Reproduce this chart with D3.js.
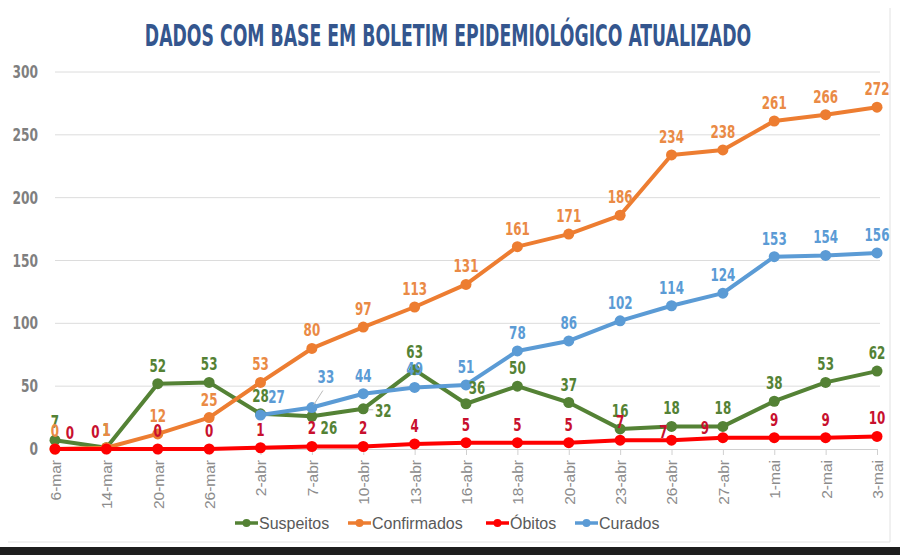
<!DOCTYPE html>
<html lang="pt">
  <head>
    <meta charset="UTF-8" />
    <title>Boletim epidemiológico</title>
    <script src="https://d3js.org/d3.v7.min.js"></script>
    <style>
      body { margin: 0; background: #fff; }
      svg { display: block; }
      .narrow { font-family: "Liberation Sans Narrow", "DejaVu Sans Condensed", "Roboto", sans-serif; font-stretch: condensed; font-weight: bold; }
    </style>
  </head>
  <body>
    <svg width="900" height="555"></svg>
    <script>
      // dates on the x axis
      const dates = ["6-mar", "14-mar", "20-mar", "26-mar", "2-abr", "7-abr", "10-abr", "13-abr", "16-abr",
        "18-abr", "20-abr", "23-abr", "26-abr", "27-abr", "1-mai", "2-mai", "3-mai"];

      const suspeitos = [7, 1, 52, 53, 28, 26, 32, 63, 36, 50, 37, 16, 18, 18, 38, 53, 62];
      const confirmados = [0, 1, 12, 25, 53, 80, 97, 113, 131, 161, 171, 186, 234, 238, 261, 266, 272];
      const obitos = [0, 0, 0, 0, 1, 2, 2, 4, 5, 5, 5, 7, 7, 9, 9, 9, 10];
      const curados = [null, null, null, null, 27, 33, 44, 49, 51, 78, 86, 102, 114, 124, 153, 154, 156];

      const yTicks = [0, 50, 100, 150, 200, 250, 300];

      const series = [
        { name: "Suspeitos", values: suspeitos, color: "#548235", label: "#548235" },
        { name: "Confirmados", values: confirmados, color: "#ed7d31", label: "#ea8a45" },
        { name: "Óbitos", values: obitos, color: "#ff0000", label: "#c8102e" },
        { name: "Curados", values: curados, color: "#5b9bd5", label: "#5b9bd5" }
      ];

      // label nudges where the labels would collide (dx, dy from point)
      const nudges = {
        "Suspeitos": { 5: [17, 12], 6: [20, 2], 8: [11, -16] },
        "Óbitos": { 0: [15, -16], 1: [-11, -17], 12: [-8, -8], 13: [-18, -10] },
        "Curados": { 4: [16, -18], 5: [14, -31] }
      };

      const svg = d3.select("svg");

      // panel frame
      svg.append("line").attr("x1", 890).attr("x2", 890).attr("y1", 8).attr("y2", 542)
        .attr("stroke", "#e2e2e2");
      svg.append("line").attr("x1", 8).attr("x2", 890).attr("y1", 542).attr("y2", 542)
        .attr("stroke", "#e2e2e2");
      svg.append("rect").attr("x", 0).attr("y", 547).attr("width", 900).attr("height", 8)
        .attr("fill", "#1e1e1e");

      const x = d3.scalePoint().domain(dates).range([55, 877]);
      const y = d3.scaleLinear().domain([0, 300]).range([449, 72]);

      // title, squeezed horizontally like the condensed original
      svg.append("text")
        .attr("class", "narrow")
        .attr("transform", "translate(448,46) scale(0.64,1)")
        .attr("text-anchor", "middle")
        .attr("font-size", 30)
        .attr("fill", "#34568e")
        .text("DADOS COM BASE EM BOLETIM EPIDEMIOLÓGICO ATUALIZADO");

      // grid
      svg.append("g")
        .selectAll("line")
        .data(yTicks.filter(d => d > 0))
        .join("line")
        .attr("x1", 55).attr("x2", 880)
        .attr("y1", d => y(d)).attr("y2", d => y(d))
        .attr("stroke", "#dcdcdc");

      // y axis labels
      svg.append("g")
        .selectAll("text")
        .data(yTicks)
        .join("text")
        .attr("class", "narrow")
        .attr("transform", d => `translate(38,${y(d) + 6}) scale(0.8,1)`)
        .attr("text-anchor", "end")
        .attr("font-size", 17)
        .attr("fill", "#7f7f7f")
        .text(d => d);

      // x axis
      const xAxis = svg.append("g")
        .attr("transform", "translate(0,449)")
        .call(d3.axisBottom(x).tickSize(6).tickPadding(5));
      xAxis.select(".domain").attr("stroke", "#d0d0d0");
      xAxis.selectAll(".tick line").attr("stroke", "#d0d0d0");
      xAxis.selectAll(".tick text")
        .attr("transform", "rotate(-90)")
        .attr("text-anchor", "end")
        .attr("x", -11).attr("y", 0).attr("dy", "0.35em")
        .attr("font-family", "'Liberation Sans', Arial, sans-serif")
        .attr("font-size", 15.5)
        .attr("fill", "#8c8c8c");

      const line = d3.line()
        .defined(d => d[1] != null)
        .x(d => x(d[0]))
        .y(d => y(d[1]));

      series.forEach(s => {
        const pts = dates.map((dt, i) => [dt, s.values[i]]);
        const g = svg.append("g");
        g.append("path")
          .datum(pts)
          .attr("d", line)
          .attr("fill", "none")
          .attr("stroke", s.color)
          .attr("stroke-width", 4)
          .attr("stroke-linejoin", "round");
        g.selectAll("circle")
          .data(pts.filter(d => d[1] != null))
          .join("circle")
          .attr("cx", d => x(d[0]))
          .attr("cy", d => y(d[1]))
          .attr("r", 5.5)
          .attr("fill", s.color);
      });

      // leader lines
      svg.append("line").attr("x1", x("7-abr") + 2).attr("y1", y(33) - 3)
        .attr("x2", x("7-abr") + 11).attr("y2", y(33) - 17).attr("stroke", "#bbb");
      svg.append("line").attr("x1", x("10-abr") + 5).attr("y1", y(32) + 1)
        .attr("x2", x("10-abr") + 10).attr("y2", y(32) + 1).attr("stroke", "#bbb");

      // data labels
      series.forEach(s => {
        const nd = nudges[s.name] || {};
        svg.append("g")
          .selectAll("text")
          .data(dates.map((dt, i) => ({ dt, v: s.values[i], i })).filter(d => d.v != null))
          .join("text")
          .attr("class", "narrow")
          .attr("text-anchor", "middle")
          .attr("font-size", 17)
          .attr("fill", s.label)
          .attr("transform", d => {
            const lx = x(d.dt) + (nd[d.i] ? nd[d.i][0] : 0);
            const ly = y(d.v) + (nd[d.i] ? nd[d.i][1] : -18) + 6;
            return `translate(${lx},${ly}) scale(0.78,1)`;
          })
          .text(d => d.v);
      });

      // legend
      const legendX = [235, 348, 486, 575];
      const legend = svg.append("g").attr("transform", "translate(0,523)");
      series.forEach((s, i) => {
        const lg = legend.append("g").attr("transform", `translate(${legendX[i]},0)`);
        lg.append("line").attr("x1", 0).attr("x2", 23).attr("stroke", s.color).attr("stroke-width", 3.5);
        lg.append("circle").attr("cx", 11.5).attr("r", 4).attr("fill", s.color);
        lg.append("text")
          .attr("x", 24).attr("y", 5.5)
          .attr("font-family", "'Liberation Sans', Arial, sans-serif")
          .attr("font-size", 16)
          .attr("fill", "#595959")
          .text(s.name);
      });
    </script>
  </body>
</html>
